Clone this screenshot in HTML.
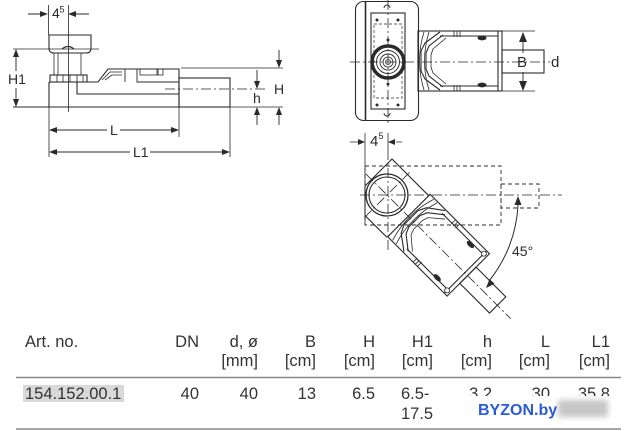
<!DOCTYPE html>
<html><head><meta charset="utf-8"><style>
html,body{margin:0;padding:0;background:#fff;}
svg{display:block;}
text{font-family:"Liberation Sans",Arial,sans-serif;}
</style></head><body>
<svg width="626" height="431" viewBox="0 0 626 431" xmlns="http://www.w3.org/2000/svg">
<defs>
<filter id="bl" x="-50%" y="-50%" width="200%" height="200%"><feGaussianBlur stdDeviation="3"/></filter>
<g id="pipe" fill="none" stroke="#2a2a2a" stroke-width="1.1">
 <rect x="30" y="-31" width="84" height="60"/>
 <path d="M52,-26H110M52,24H110M110,-31V29"/>
 <path d="M52,-30L37,-19L33,-11V9L37,17L52,28"/>
 <path d="M55,-27L41,-16L38,-9V7L41,14L55,25"/>
 <path d="M58,-24L45,-13L43,-7V5L45,11L58,22" stroke-width="0.8"/>
 <path d="M36,-30Q27,-1 36,28M41,-30Q32,-1 41,28" stroke-width="0.8"/>
 <path d="M66,-31V-25M69,-31V-25M72,-31V-25M66,23V29M69,23V29M72,23V29" stroke-width="0.8"/>
 <ellipse cx="94" cy="-24" rx="4" ry="1.8" fill="#2a2a2a"/>
 <ellipse cx="94" cy="23" rx="4" ry="1.8" fill="#2a2a2a"/>
 <rect x="114" y="-12" width="42" height="23"/>
</g>
</defs>

<!-- ============ LEFT SIDE VIEW ============ -->
<g fill="none" stroke="#2a2a2a" stroke-width="1.1">
 <path d="M48.5,5V35M68.5,5V112" stroke-width="0.8"/>
 <path d="M13,49H99" stroke-width="0.8"/>
 <path d="M13,107H179"/>
 <path d="M181,68H283M181,107H283" stroke-width="0.8"/>
 <path d="M49,107V157M179,107V137M230,107V157" stroke-width="0.8"/>
 <path d="M49,35H91V48Q91,53 86,53H54Q49,53 49,48Z"/>
 <path d="M62,49Q68,44 74,49"/>
 <path d="M54,53V75M81,53V75M58,53V75" stroke-width="0.8"/>
 <rect x="50" y="75" width="37" height="7"/>
 <path d="M57,75V82M63,75V82M70,75V82M77,75V82M83,75V82" stroke-width="0.8"/>
 <path d="M49,82V107"/>
 <path d="M49,82H98L108,69H179V107"/>
 <path d="M77,82V94H179"/>
 <path d="M125,69V82M137,69V82H179" stroke-width="0.9"/>
 <path d="M102,80L110,72H122M105,80L112,75H122" stroke-width="0.8"/>
 <rect x="140" y="69" width="17" height="6" stroke-width="0.8"/>
 <rect x="158" y="69" width="5" height="6" stroke-width="0.8"/>
 <rect x="179" y="78" width="51" height="29"/>
 <path d="M165,89H265" stroke-width="0.8" stroke-dasharray="10 3 2 3"/>
 <path d="M28,14H46M70,14H89" stroke-width="0.9"/>
 <path d="M16,51V71M16,88V105" stroke-width="0.9"/>
 <path d="M279,50V66M257,70V87M257,109V125M279,109V125" stroke-width="0.9"/>
 <path d="M51,130H107M120,130H177M51,152H130M150,152H228" stroke-width="0.9"/>
</g>
<g fill="#2a2a2a">
 <polygon points="48,14 40,11 40,17"/>
 <polygon points="68,14 76,11 76,17"/>
 <polygon points="16,49 13,57 19,57"/>
 <polygon points="16,107 13,99 19,99"/>
 <polygon points="279,68 276,60 282,60"/>
 <polygon points="257,89 254,81 260,81"/>
 <polygon points="257,107 254,115 260,115"/>
 <polygon points="279,107 276,115 282,115"/>
 <polygon points="49,130 57,127 57,133"/>
 <polygon points="179,130 171,127 171,133"/>
 <polygon points="49,152 57,149 57,155"/>
 <polygon points="230,152 222,149 222,155"/>
</g>
<g fill="#2a2a2a" font-size="14">
 <text x="52" y="18">4</text><text x="59.5" y="12.5" font-size="9">5</text>
 <text x="8" y="84">H1</text>
 <text x="274" y="94">H</text>
 <text x="253" y="103">h</text>
 <text x="110" y="135">L</text>
 <text x="133" y="157">L1</text>
</g>

<!-- ============ TOP VIEW ============ -->
<g fill="none" stroke="#2a2a2a" stroke-width="1.1">
 <rect x="355.5" y="1.5" width="63" height="119" rx="8"/>
 <path d="M365.5,2V120" stroke-width="1.6"/>
 <rect x="371" y="13" width="34" height="96"/>
 <rect x="374" y="24" width="28" height="74" stroke-width="0.7" stroke-dasharray="3 2"/>
 <path d="M384,8A3,3 0 0 1 390,8M384,113A3,3 0 0 0 390,113" stroke-width="0.9"/>
 <path d="M388,0V126" stroke-width="0.8" stroke-dasharray="10 3 2 3"/>
 <path d="M350,62H550" stroke-width="0.8" stroke-dasharray="10 3 2 3"/>
 <circle cx="388" cy="62" r="16" stroke-width="3.5"/>
 <circle cx="388" cy="62" r="11.5" stroke-width="0.9"/>
 <circle cx="388" cy="62" r="8" stroke-width="0.9"/>
 <circle cx="388" cy="62" r="5" stroke-width="0.8"/>
 <circle cx="388" cy="62" r="2.5" stroke-width="0.8"/>
 <path d="M502,31H535M502,91H535" stroke-width="0.8"/>
 <path d="M523,42V53M523,72V81" stroke-width="0.9"/>
 <path d="M350,142H360M396,142H402M365,133V150M388,133V150" stroke-width="0.8"/>
</g>
<g fill="#2a2a2a">
 <circle cx="377" cy="20" r="1.5"/><circle cx="398" cy="20" r="1.5"/>
 <circle cx="377" cy="105" r="1.5"/><circle cx="398" cy="105" r="1.5"/>
 <circle cx="388" cy="40" r="1.5"/><circle cx="388" cy="84" r="1.5"/>
 <polygon points="523,32 519,42 527,42"/>
 <polygon points="523,91 519,81 527,81"/>
 <polygon points="365,142 358,139 358,145"/>
 <polygon points="388,142 395,139 395,145"/>
</g>
<use href="#pipe" transform="translate(388,62)"/>
<g fill="#2a2a2a">
 <text x="517" y="67" font-size="15">B</text>
 <text x="551" y="67" font-size="15">d</text>
 <text x="370" y="146" font-size="15">4</text><text x="378.5" y="139" font-size="9">5</text>
</g>

<!-- ============ ROTATED VIEW ============ -->
<g fill="none" stroke="#2a2a2a" stroke-width="1.1">
 <path d="M365,150V225" stroke-width="0.8"/>
 <path d="M388,150V253" stroke-width="0.8" stroke-dasharray="10 3 2 3"/>
 <rect x="365" y="166" width="136" height="59" stroke-width="0.9" stroke-dasharray="4 3"/>
 <rect x="501" y="184" width="38" height="24" stroke-width="0.9" stroke-dasharray="4 3"/>
 <path d="M360,195H562" stroke-width="0.8" stroke-dasharray="10 3 2 3"/>
 <circle cx="387" cy="195" r="21" stroke-width="1.3"/>
 <circle cx="387" cy="195" r="18" stroke-width="1.1"/>
 <path d="M365,186L392,159L428.7,195.7M365,186V215.5L387,237.4"/>
 <path d="M518,205A131,131 0 0 1 489,281" stroke-width="1"/>
</g>
<g transform="translate(387,195) rotate(45)">
 <path d="M-30,0H175M0,-32V32" fill="none" stroke="#2a2a2a" stroke-width="0.8" stroke-dasharray="10 3 2 3"/>
 <use href="#pipe"/>
 <circle cx="110" cy="-27" r="2.5" fill="#fff" stroke="#2a2a2a" stroke-width="0.9"/>
 <circle cx="110" cy="25" r="2.5" fill="#fff" stroke="#2a2a2a" stroke-width="0.9"/>
</g>
<g fill="#2a2a2a">
 <polygon points="518,196 514.5,205 521.5,205"/>
 <polygon points="486,288 489.5,279 494.6,283.8"/>
 <text x="512" y="256" font-size="14">45°</text>
</g>

<!-- ============ TABLE ============ -->
<path d="M16,377.5H621" stroke="#8a8a8a" stroke-width="1.6"/>
<path d="M16,429H621" stroke="#8a8a8a" stroke-width="1.6"/>
<rect x="23" y="385" width="101" height="17" fill="#d9d9d9"/>
<g fill="#333" font-size="16.5">
 <text x="25" y="347">Art. no.</text>
 <g text-anchor="end">
  <text x="199" y="347">DN</text>
  <text x="258" y="347">d, ø</text><text x="258" y="366">[mm]</text>
  <text x="316" y="347">B</text><text x="316" y="366">[cm]</text>
  <text x="375" y="347">H</text><text x="375" y="366">[cm]</text>
  <text x="433" y="347">H1</text><text x="433" y="366">[cm]</text>
  <text x="492" y="347">h</text><text x="492" y="366">[cm]</text>
  <text x="550" y="347">L</text><text x="550" y="366">[cm]</text>
  <text x="610" y="347">L1</text><text x="610" y="366">[cm]</text>
 </g>
 <text x="25" y="399">154.152.00.1</text>
 <g text-anchor="end">
  <text x="199" y="399">40</text>
  <text x="258" y="399">40</text>
  <text x="316" y="399">13</text>
  <text x="375" y="399">6.5</text>
  <text x="492" y="399">3.2</text>
  <text x="550" y="399">30</text>
  <text x="610" y="399">35.8</text>
 </g>
 <text x="401" y="399">6.5-</text>
 <text x="401" y="419">17.5</text>
</g>
<rect x="465" y="396" width="150" height="25" fill="#fff"/>
<rect x="558" y="400" width="50" height="17" fill="#c6c6c6" filter="url(#bl)"/>
<text x="478" y="415" font-size="16" font-weight="bold" fill="#2a5ad6">BYZON.by</text>
</svg>
</body></html>
